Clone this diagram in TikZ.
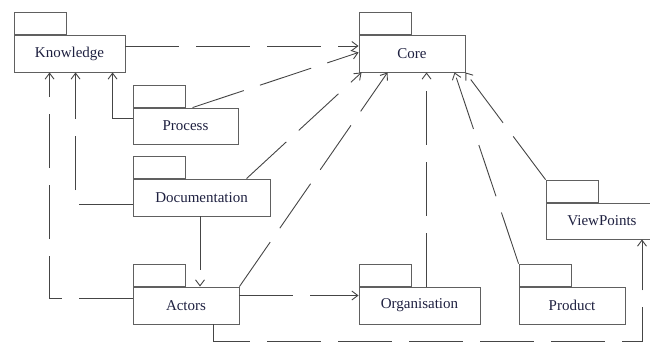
\documentclass[tikz,border=0pt]{standalone}
\usepackage{fontspec}
\setmainfont{Liberation Serif}
\usetikzlibrary{arrows.meta,calc}
\definecolor{boxline}{HTML}{606060}
\definecolor{conn}{HTML}{454545}
\definecolor{txt}{HTML}{1E2040}
\begin{document}
\begin{tikzpicture}[x=1pt,y=-1pt,
  pkg/.style={draw=boxline,line width=0.9pt,fill=white,inner sep=0pt,minimum height=37pt,
    font=\fontsize{15}{17}\selectfont,text=txt},
  tab/.style={draw=boxline,line width=0.9pt,inner sep=0pt,minimum width=52pt,minimum height=22pt,anchor=south west},
  dep/.style={draw=conn,line width=0.9pt,dash pattern=on 54pt off 17pt,-{Straight Barb[length=6pt,width=9pt]}},
  solidep/.style={draw=conn,line width=0.9pt,-{Straight Barb[length=6pt,width=9pt]}}
]
\useasboundingbox (0,0) rectangle (650,343);
% packages
\node[pkg,minimum width=111pt] (k) at (69.5,53.5) {Knowledge};
\node[tab] (kt) at (k.north west) {};
\node[pkg,minimum width=106pt] (c) at (412,53.5) {Core};
\node[tab] (ct) at (c.north west) {};
\node[pkg,minimum width=105pt,minimum height=36pt] (p) at (185.5,126) {Process};
\node[tab] (pt) at (p.north west) {};
\node[pkg,minimum width=137pt] (d) at (201.5,197.5) {Documentation};
\node[tab] (dt) at (d.north west) {};
\node[pkg,minimum width=106pt] (a) at (186,305.5) {Actors};
\node[tab] (at) at (a.north west) {};
\node[pkg,minimum width=121pt] (o) at (419.5,305.5) {Organisation};
\node[tab] (ot) at (o.north west) {};
\node[pkg,minimum width=106pt] (pr) at (572,305.5) {Product};
\node[tab] (prt) at (pr.north west) {};
\node[pkg,minimum width=112pt,minimum height=36pt] (v) at (602,221) {ViewPoints};
\node[tab] (vt) at (v.north west) {};
% connectors
\draw[dep] ([yshift=7.5pt]k.east) -- ([yshift=7.5pt]c.west);
\draw[dep] ([xshift=60pt]p.north west) -- ([yshift=1pt]c.west);
\draw[solidep] ([yshift=8pt]p.west) -| ([xshift=99pt]k.south west);
\draw[dep] ([yshift=-6.5pt]d.west) -| ([xshift=62pt]k.south west);
\draw[dep] ([yshift=7.5pt]a.west) -| ([xshift=36pt]k.south west);
\draw[dep] ([xshift=114pt]d.north west) -- ([xshift=3pt]c.south west);
\draw[dep] (a.north east) -- ([xshift=29pt]c.south west);
\draw[dep] ([xshift=68pt]o.north west) -- ([xshift=68pt]c.south west);
\draw[dep] (prt.north west) -- ([xshift=96pt]c.south west);
\draw[dep] (vt.north west) -- (c.south east);
\draw[dep] ([xshift=-1.5pt]d.south) -- ([xshift=-1.5pt]d.south |- a.north);
\draw[dep] ([yshift=10pt]a.east) -- ([yshift=10pt]a.east -| o.west);
\coordinate (bend) at ([xshift=27pt,yshift=-17pt]a.south);
\draw[dep] ([xshift=27pt]a.south) -- (bend) -| ([xshift=40pt]v.south);
\end{tikzpicture}
\end{document}
